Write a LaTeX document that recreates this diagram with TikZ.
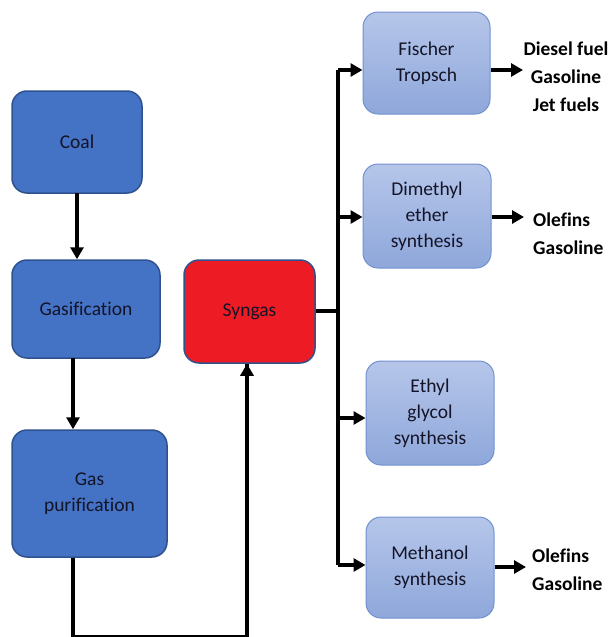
\documentclass[tikz,border=0pt]{standalone}
\usepackage{fontspec}
\setmainfont[Ligatures=NoCommon]{Carlito}
\usetikzlibrary{arrows.meta}
\definecolor{darkblue}{RGB}{68,114,196}
\definecolor{darkborder}{RGB}{47,82,143}
\definecolor{lighttop}{RGB}{182,198,234}
\definecolor{lightbot}{RGB}{142,167,218}
\definecolor{lightborder}{RGB}{114,145,207}
\definecolor{syngasred}{RGB}{237,28,36}
\definecolor{txt}{RGB}{20,20,40}
\tikzset{
  base/.style={rounded corners=15pt, inner sep=0pt, align=center, font=\fontsize{19.5}{26}\selectfont, text=txt},
  darkbox/.style={base, fill=darkblue, draw=darkborder, line width=1.5pt},
  redbox/.style={base, fill=syngasred, draw=darkborder, line width=1.5pt},
  lightbox/.style={base, top color=lighttop, bottom color=lightbot, draw=lightborder, line width=1pt},
  flow/.style={line width=3.3pt, -{Triangle[length=12pt,width=13pt]}},
  plain/.style={line width=3.3pt},
  product/.style={font=\bfseries\fontsize{19.5}{28}\selectfont, inner sep=0pt}
}
\begin{document}
\begin{tikzpicture}[x=1pt,y=-1pt]
\useasboundingbox (0,0) rectangle (611,637);
\clip (0,0) rectangle (611,637);
% left column
\node[darkbox, minimum width=130pt, minimum height=102pt] (coal) at (77,142) {Coal};
\node[darkbox, minimum width=148pt, minimum height=98pt] (gasif) at (86,309) {Gasification};
\node[darkbox, minimum width=155pt, minimum height=127pt] (purif) at (89.5,493.5) {Gas\\purification};
\node[redbox, minimum width=131pt, minimum height=103pt] (syngas) at (249.5,311.5) {Syngas};
% right column
\node[lightbox, minimum width=127pt, minimum height=102pt] (ft) at (426.5,63) {Fischer\\Tropsch};
\node[lightbox, minimum width=128pt, minimum height=104pt] (dme) at (427,216) {Dimethyl\\ether\\synthesis};
\node[lightbox, minimum width=128pt, minimum height=104pt] (eg) at (430,413) {Ethyl\\glycol\\synthesis};
\node[lightbox, minimum width=128pt, minimum height=101pt] (meoh) at (430,567.5) {Methanol\\synthesis};
% products
\node[product, align=center] (p1) at (566,77) {Diesel fuel\\Gasoline\\Jet fuels};
\node[product, align=left, anchor=west] (p2) at (533,233.5) {Olefins\\Gasoline};
\node[product, align=left, anchor=west] (p3) at (532,570) {Olefins\\Gasoline};
% coordinates
\coordinate (c1) at (77,193);
\coordinate (c2) at (73,358);
\coordinate (lb) at (73,637);
\coordinate (rb) at (247,637);
\coordinate (bus) at (338,311);
\coordinate (b1) at (338,70);
\coordinate (b2) at (338,217);
\coordinate (b3) at (338,418);
\coordinate (b4) at (338,565);
\coordinate (o1) at (523,70);
\coordinate (o2) at (524,217);
\coordinate (o3) at (526,567);
% connectors
\draw[flow] (c1) -- (c1 |- gasif.north);
\draw[flow] (c2) -- (c2 |- purif.north);
\draw[plain] (purif.south -| lb) -- (lb) -- (rb) -- (rb |- syngas.south);
\draw[flow] (rb) -- (rb |- syngas.south);
\draw[plain] (syngas.east |- bus) -- (bus);
\draw[plain] (b1) -- (b4);
\draw[flow] (b1) -- (b1 -| ft.west);
\draw[flow] (b2) -- (b2 -| dme.west);
\draw[flow] (b3) -- (b3 -| eg.west);
\draw[flow] (b4) -- (b4 -| meoh.west);
\draw[flow] (ft.east |- o1) -- (o1);
\draw[flow] (dme.east |- o2) -- (o2);
\draw[flow] (meoh.east |- o3) -- (o3);
\end{tikzpicture}
\end{document}
